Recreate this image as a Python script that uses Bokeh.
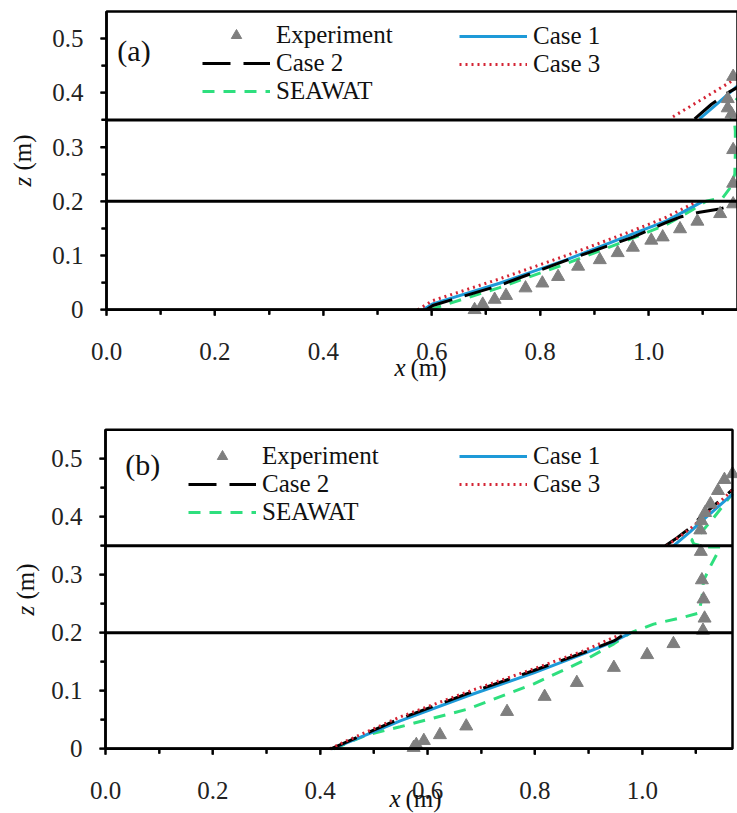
import math
from bokeh.plotting import figure
from bokeh.layouts import column
from bokeh.models import (Range1d, FixedTicker, CustomJSTickFormatter, Label, BoxAnnotation,
                          Legend, LegendItem)
from bokeh.core.properties import value
from bokeh.embed import file_html
from bokeh.resources import INLINE

NaN = float("nan")

# ---------------- ticks ----------------
X_TICKS = [0.0, 0.2, 0.4, 0.6, 0.8, 1.0]
X_TICK_LABELS = ["0.0", "0.2", "0.4", "0.6", "0.8", "1.0"]
X_MINOR = [0.1, 0.3, 0.5, 0.7, 0.9, 1.1]
Z_TICKS = [0.0, 0.1, 0.2, 0.3, 0.4, 0.5]
Z_TICK_LABELS = ["0", "0.1", "0.2", "0.3", "0.4", "0.5"]
Z_MINOR = [0.05, 0.15, 0.25, 0.35, 0.45]
Z_TOP = 0.55
LAYER_TOPS = [0.2, 0.35]

# ---------------- panel (a) ----------------
A_EXP_X = [0.679, 0.694, 0.716, 0.737, 0.773, 0.804, 0.833, 0.870, 0.910, 0.943, 0.971, 1.005,
           1.026, 1.058, 1.090, 1.132, 1.156, 1.156, 1.156, 1.153, 1.146, 1.146, 1.156]
A_EXP_Z = [0.000, 0.010, 0.019, 0.026, 0.040, 0.049, 0.061, 0.080, 0.092, 0.105, 0.115, 0.128,
           0.134, 0.149, 0.163, 0.177, 0.195, 0.233, 0.295, 0.361, 0.372, 0.389, 0.430]
A_C1_X = [0.584, 0.602, 0.725, 0.848, 0.971, 1.033, 1.100, NaN, 1.094, 1.130, 1.164]
A_C1_Z = [0.000, 0.011, 0.049, 0.092, 0.140, 0.164, 0.200, NaN, 0.352, 0.383, 0.413]
A_C2_X = [0.590, 0.602, 0.725, 0.848, 0.971, 1.033, 1.058, 1.094, 1.131, 1.164, NaN, 1.085, 1.116, 1.144, 1.164]
A_C2_Z = [0.000, 0.008, 0.045, 0.091, 0.134, 0.161, 0.171, 0.180, 0.186, 0.195, NaN, 0.352, 0.379, 0.399, 0.410]
A_C3_X = [0.574, 0.602, 0.725, 0.848, 0.971, 1.033, 1.090, NaN, 1.045, 1.100, 1.149, 1.164]
A_C3_Z = [0.000, 0.017, 0.057, 0.100, 0.146, 0.171, 0.200, NaN, 0.356, 0.389, 0.419, 0.428]
A_SW_X = [0.596, 0.725, 0.848, 0.971, 1.033, 1.082, 1.106, 1.137, 1.149, 1.159, 1.160, 1.160,
          1.158, 1.148, 1.152, 1.164]
A_SW_Z = [0.000, 0.041, 0.085, 0.132, 0.157, 0.185, 0.200, 0.207, 0.223, 0.250, 0.290, 0.330,
          0.350, 0.358, 0.375, 0.390]

# ---------------- panel (b) ----------------
B_EXP_X = [0.574, 0.579, 0.593, 0.623, 0.672, 0.748, 0.818, 0.878, 0.947, 1.009, 1.058, 1.113,
           1.116, 1.114, 1.111, 1.109, 1.108, 1.110, 1.117, 1.127, 1.141, 1.153, 1.168]
B_EXP_Z = [0.002, 0.007, 0.014, 0.024, 0.039, 0.064, 0.090, 0.114, 0.140, 0.162, 0.181, 0.204,
           0.225, 0.258, 0.291, 0.340, 0.377, 0.393, 0.407, 0.422, 0.445, 0.464, 0.474]
B_C1_X = [0.422, 0.549, 0.674, 0.798, 0.891, 0.947, 0.978, NaN, 1.058, 1.090, 1.110, 1.168]
B_C1_Z = [0.000, 0.048, 0.091, 0.131, 0.164, 0.185, 0.200, NaN, 0.350, 0.375, 0.392, 0.439]
B_C2_X = [0.420, 0.549, 0.674, 0.798, 0.891, 0.947, 0.962, NaN, 1.043, 1.065, 1.089, 1.108, 1.168]
B_C2_Z = [0.000, 0.052, 0.095, 0.135, 0.166, 0.186, 0.195, NaN, 0.350, 0.364, 0.381, 0.399, 0.447]
B_C3_X = [0.418, 0.450, 0.549, 0.674, 0.798, 0.891, 0.959, NaN, 1.045, 1.070, 1.095, 1.168]
B_C3_Z = [0.000, 0.014, 0.055, 0.098, 0.138, 0.169, 0.197, NaN, 0.350, 0.366, 0.384, 0.446]
B_SW_X = [0.425, 0.487, 0.549, 0.673, 0.798, 0.891, 0.947, 0.978, 1.021, 1.077, 1.105, 1.111,
          1.114, 1.127, 1.142, 1.145, 1.120, 1.096, 1.092, 1.105, 1.130, 1.168]
B_SW_Z = [0.000, 0.024, 0.038, 0.068, 0.112, 0.152, 0.181, 0.200, 0.215, 0.227, 0.234, 0.259,
          0.290, 0.315, 0.341, 0.348, 0.348, 0.353, 0.360, 0.368, 0.395, 0.440]

SERIES_NAMES = ["Experiment", "Case 1", "Case 2", "Case 3", "SEAWAT"]

BLUE = "#1E9AD8"
RED = "#D42434"
GREEN = "#2EDF7E"
GRAY = "#7F7F7F"
BLACK = "#000000"
TXT = "#111111"
FONT = "Liberation Serif"


def ranges_for(canvas_w, canvas_h, box, x_end):
    """Ranges whose plotting box (left, right, top, bottom in px) holds 0..x_end and 0..Z_TOP."""
    left, right, top, bottom = box
    sx = (right - left) / x_end
    sy = (bottom - top) / Z_TOP
    xr = Range1d(-left / sx, x_end + (canvas_w - right) / sx)
    yr = Range1d(-(canvas_h - bottom) / sy, Z_TOP + top / sy)
    return xr, yr, sx, sy


def make_panel(tag, exp, c1, c2, c3, sw, height, box, x_end, leg1_loc, leg2_loc, tag_pos,
               zlab_px, xlab_px):
    xr, yr, sx, sy = ranges_for(737, height, box, x_end)
    left, right, top, bottom = box
    p = figure(width=737, height=height, x_range=xr, y_range=yr,
               output_backend="svg", toolbar_location=None,
               min_border_left=0, min_border_right=0, min_border_top=0, min_border_bottom=0)
    p.grid.visible = False
    p.outline_line_color = None
    p.background_fill_color = "white"
    p.border_fill_color = "white"

    # library axes pinned at x = 0 and z = 0
    xa = p.below[0]
    ya = p.left[0]
    xa.fixed_location = 0
    ya.fixed_location = 0
    xa.bounds = (0, x_end)
    ya.bounds = (0, Z_TOP)
    xa.ticker = FixedTicker(ticks=X_TICKS, minor_ticks=X_MINOR)
    ya.ticker = FixedTicker(ticks=Z_TICKS, minor_ticks=Z_MINOR)
    for ax in (xa, ya):
        ax.formatter = CustomJSTickFormatter(code="return '';")
        ax.axis_line_width = 2.5
        ax.axis_line_color = BLACK
        ax.major_tick_line_width = 2
        ax.minor_tick_line_width = 2
        ax.major_tick_line_color = BLACK
        ax.minor_tick_line_color = BLACK
        ax.major_tick_in = 0
        ax.major_tick_out = 6
        ax.minor_tick_in = 0
        ax.minor_tick_out = 5

    # plotting box outline
    p.add_layout(BoxAnnotation(left=0, right=x_end, bottom=0, top=Z_TOP,
                               fill_alpha=0, line_color=BLACK, line_alpha=1, line_width=2.5))

    # outward tick marks at the tick positions (same as the axis ticks)
    xt_major = len(X_TICKS)
    xt_minor = len(X_MINOR)
    p.segment(x0=X_TICKS, x1=X_TICKS, y0=[0] * xt_major, y1=[-6 / sy] * xt_major,
              line_color=BLACK, line_width=2)
    p.segment(x0=X_MINOR, x1=X_MINOR, y0=[0] * xt_minor, y1=[-5 / sy] * xt_minor,
              line_color=BLACK, line_width=2)
    zt_major = len(Z_TICKS)
    zt_minor = len(Z_MINOR)
    p.segment(x0=[0] * zt_major, x1=[-6 / sx] * zt_major, y0=Z_TICKS, y1=Z_TICKS,
              line_color=BLACK, line_width=2)
    p.segment(x0=[0] * zt_minor, x1=[-5 / sx] * zt_minor, y0=Z_MINOR, y1=Z_MINOR,
              line_color=BLACK, line_width=2)

    r_sw = p.line(sw[0], sw[1], line_color=GREEN, line_width=3, line_dash="12 9")
    r_c1 = p.line(c1[0], c1[1], line_color=BLUE, line_width=3)
    r_c2 = p.line(c2[0], c2[1], line_color=BLACK, line_width=3, line_dash="28 13")
    r_c3 = p.line(c3[0], c3[1], line_color=RED, line_width=3, line_dash="2 4")
    r_ex = p.scatter(exp[0], exp[1], marker="triangle", size=13, fill_color=GRAY,
                     line_color=GRAY)

    # layer boundaries
    p.segment(x0=[0] * len(LAYER_TOPS), x1=[x_end] * len(LAYER_TOPS),
              y0=LAYER_TOPS, y1=LAYER_TOPS, line_color=BLACK, line_width=3)

    # tick labels
    p.text(x=X_TICKS, y=[0] * len(X_TICKS), text=X_TICK_LABELS, y_offset=42,
           text_align="center", text_baseline="alphabetic", text_font=value(FONT),
           text_font_size="25px", text_color="#222222")
    p.text(x=[0] * len(Z_TICKS), y=Z_TICKS, text=Z_TICK_LABELS, x_offset=-23,
           text_align="right", text_baseline="middle", text_font=value(FONT),
           text_font_size="25px", text_color="#222222")

    # axis titles (italic variable + upright unit)
    zx = (zlab_px[0] - left) / sx
    z_start = (bottom - zlab_px[1]) / sy
    p.add_layout(Label(x=zx, y=z_start, text="z", text_font=FONT, text_font_style="italic",
                       text_font_size="25px", angle=math.pi / 2, text_align="left",
                       text_baseline="middle", text_color=TXT))
    p.add_layout(Label(x=zx, y=z_start + 16 / sy, text="(m)", text_font=FONT,
                       text_font_size="25px", angle=math.pi / 2, text_align="left",
                       text_baseline="middle", text_color=TXT))
    x_left = (xlab_px[0] - left) / sx
    x_base = -(xlab_px[1] - bottom) / sy
    p.add_layout(Label(x=x_left, y=x_base, text="x", text_font=FONT, text_font_style="italic",
                       text_font_size="25px", text_align="left", text_baseline="alphabetic",
                       text_color=TXT))
    p.add_layout(Label(x=x_left + 16 / sx, y=x_base, text="(m)", text_font=FONT,
                       text_font_size="25px", text_align="left", text_baseline="alphabetic",
                       text_color=TXT))

    common = dict(label_text_font=FONT, label_text_font_size="25px", label_text_color=TXT,
                  glyph_width=68, glyph_height=26, label_height=26, label_standoff=6,
                  spacing=0, padding=0, margin=0, border_line_alpha=0,
                  background_fill_alpha=0)
    leg1 = Legend(items=[LegendItem(label=SERIES_NAMES[0], renderers=[r_ex]),
                         LegendItem(label=SERIES_NAMES[2], renderers=[r_c2]),
                         LegendItem(label=SERIES_NAMES[4], renderers=[r_sw])],
                  location=leg1_loc, **common)
    leg2 = Legend(items=[LegendItem(label=SERIES_NAMES[1], renderers=[r_c1]),
                         LegendItem(label=SERIES_NAMES[3], renderers=[r_c3])],
                  location=leg2_loc, **common)
    p.add_layout(leg1)
    p.add_layout(leg2)

    p.add_layout(Label(x=tag_pos[0], y=tag_pos[1], text=tag, text_font=FONT,
                       text_font_size="30px", text_baseline="middle", text_color=TXT))
    return p


pa = make_panel("(a)", (A_EXP_X, A_EXP_Z), (A_C1_X, A_C1_Z), (A_C2_X, A_C2_Z),
                (A_C3_X, A_C3_Z), (A_SW_X, A_SW_Z),
                height=400, box=(106, 737, 11, 309.3), x_end=1.164,
                leg1_loc=(202, 295), leg2_loc=(459, 322), tag_pos=(0.02, 0.478),
                zlab_px=(22, 186), xlab_px=(394, 367))
pb = make_panel("(b)", (B_EXP_X, B_EXP_Z), (B_C1_X, B_C1_Z), (B_C2_X, B_C2_Z),
                (B_C3_X, B_C3_Z), (B_SW_X, B_SW_Z),
                height=413, box=(105, 732, 29.3, 348.3), x_end=1.168,
                leg1_loc=(188, 287), leg2_loc=(459, 315), tag_pos=(0.037, 0.491),
                zlab_px=(25, 215), xlab_px=(389, 398))

layout = column(pa, pb)
open("out.html", "w").write(file_html(layout, INLINE))
